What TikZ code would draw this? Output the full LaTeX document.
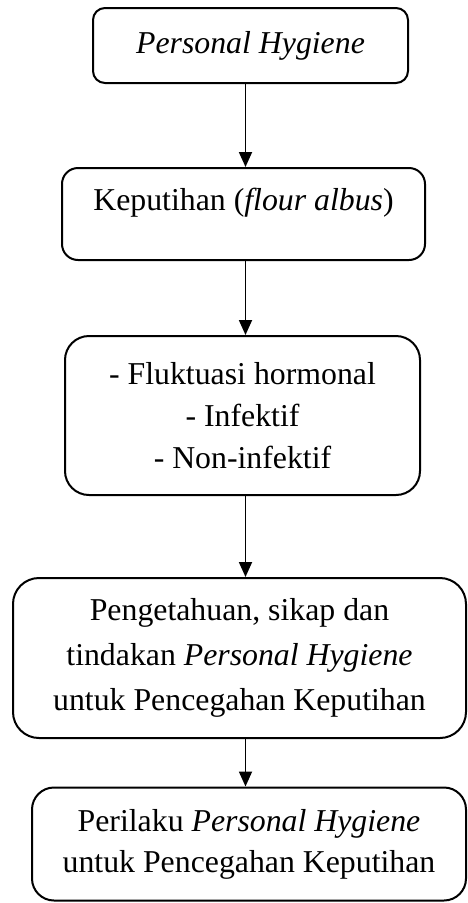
\documentclass[tikz,border=0pt]{standalone}
\usepackage{fontspec}
\setmainfont{Liberation Serif}
\usepackage{tikz}
\usetikzlibrary{arrows.meta,positioning,calc}

\begin{document}
\begin{tikzpicture}[x=1pt, y=-1pt,
    font=\fontsize{31.8}{42}\selectfont,
    box/.style={draw, line width=2pt, align=center, inner sep=0pt},
    arrow/.style={line width=1.8pt, -{Triangle[length=15pt,width=13pt]}}]
  \useasboundingbox (0,0) rectangle (468,903);
  % Boxes
  \node[box, rounded corners=12pt, minimum width=315pt, minimum height=75pt]
    (hygiene) at (250.5,45.5) {\textit{Personal Hygiene}};
  \node[box, rounded corners=16pt, minimum width=363pt, minimum height=92pt, text depth=29pt]
    (keputihan) at (243.5,214) {Keputihan (\textit{flour albus})};
  \node[box, rounded corners=24pt, minimum width=355pt, minimum height=159pt]
    (penyebab) at (242.5,415.5) {- Fluktuasi hormonal\\- Infektif\\- Non-infektif};
  \node[box, rounded corners=26pt, minimum width=453pt, minimum height=160pt,
    font=\fontsize{31.8}{45}\selectfont]
    (pengetahuan) at (239.5,658) {Pengetahuan, sikap dan\\tindakan \textit{Personal Hygiene}\\untuk Pencegahan Keputihan};
  \node[box, rounded corners=22pt, minimum width=434pt, minimum height=113pt,
    font=\fontsize{31.8}{41}\selectfont]
    (perilaku) at (249,844) {Perilaku \textit{Personal Hygiene}\\untuk Pencegahan Keputihan};
  % Arrows
  \coordinate (axis) at (245.5,0);
  \foreach \a/\b in {hygiene/keputihan, keputihan/penyebab, penyebab/pengetahuan, pengetahuan/perilaku}{
    \draw[arrow] (\a.south -| axis) -- (\b.north -| axis);
  }
\end{tikzpicture}
\end{document}
